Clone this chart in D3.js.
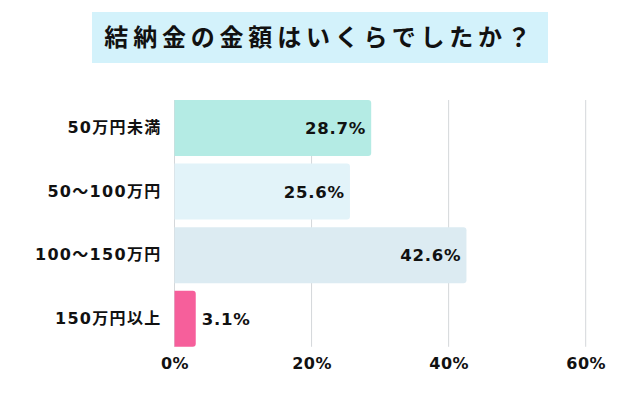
<!DOCTYPE html>
<html>
<head>
<meta charset="utf-8">
<script src="https://cdn.jsdelivr.net/npm/d3@7"></script>
<style>
  html, body { margin: 0; padding: 0; background: #fff; }
  svg { display: block; }
</style>
</head>
<body>
<svg id="svg"></svg>
<script>
const title = "結納金の金額はいくらでしたか？"
const categories = ["50万円未満", "50〜100万円", "100〜150万円", "150万円以上"]
const values = [28.7, 25.6, 42.6, 3.1]
const colors = ["#b4ebe4", "#e2f3f9", "#dcebf2", "#f65f9b"]
const ticks = [0, 20, 40, 60]

const width = 640
const height = 409
const labelFont = "'DejaVu Sans', 'Noto Sans CJK JP', sans-serif"

const svg = d3.select("#svg")
  .attr("width", width)
  .attr("height", height)
  .attr("viewBox", [0, 0, width, height])

// title box
svg.append("rect")
  .attr("x", 92).attr("y", 12)
  .attr("width", 456).attr("height", 51)
  .attr("fill", "#d3f2fb")
svg.append("text")
  .attr("x", 320).attr("y", 46)
  .attr("text-anchor", "middle")
  .attr("font-family", "'Noto Sans CJK JP', sans-serif")
  .attr("font-size", 24)
  .attr("font-weight", 700)
  .attr("letter-spacing", 4.8)
  .attr("fill", "#111")
  .text(title)

const x = d3.scaleLinear().domain([0, 60]).range([174.5, 585.7])
const y = d3.scaleBand()
  .domain(categories)
  .range([96.2, 350.6])
  .paddingInner(0.12)
  .paddingOuter(0.06)

const gridTop = y(categories[0])
const gridBottom = y(categories[categories.length - 1]) + y.bandwidth()

// gridlines
svg.append("g")
  .selectAll("line")
  .data(ticks)
  .join("line")
    .attr("x1", d => x(d)).attr("x2", d => x(d))
    .attr("y1", gridTop).attr("y2", gridBottom)
    .attr("stroke", "#d4d7da")
    .attr("stroke-width", 1)

// bars, rounded on the right side only
function barPath(x0, x1, y0, h, r) {
  r = Math.min(r, (x1 - x0) / 2)
  return `M${x0},${y0}H${x1 - r}Q${x1},${y0} ${x1},${y0 + r}V${y0 + h - r}Q${x1},${y0 + h} ${x1 - r},${y0 + h}H${x0}Z`
}

const rows = categories.map((c, i) => ({ name: c, value: values[i], color: colors[i] }))

svg.append("g")
  .selectAll("path")
  .data(rows)
  .join("path")
    .attr("d", d => barPath(x(0), x(d.value), y(d.name), y.bandwidth(), 3))
    .attr("fill", d => d.color)

// value labels
svg.append("g")
  .attr("font-family", labelFont)
  .selectAll("text")
  .data(rows)
  .join("text")
    .attr("x", d => d.value > 10 ? x(d.value) - 5 : x(d.value) + 6)
    .attr("y", d => y(d.name) + y.bandwidth() / 2)
    .attr("dy", "0.36em")
    .attr("text-anchor", d => d.value > 10 ? "end" : "start")
    .attr("font-size", 16.5)
    .attr("font-weight", 700)
    .attr("letter-spacing", 0.8)
    .attr("fill", "#111")
    .text(d => d.value.toFixed(1) + "%")

// category labels
const yAxis = d3.axisLeft(y).tickSize(0).tickPadding(13)
svg.append("g")
  .attr("transform", `translate(${x(0)},0)`)
  .call(yAxis)
  .attr("font-family", labelFont)
  .call(g => g.select(".domain").remove())
  .call(g => g.selectAll("text")
    .attr("font-size", 16)
    .attr("font-weight", 700)
    .attr("letter-spacing", 1.3)
    .attr("fill", "#111"))

// x tick labels
const xAxis = d3.axisBottom(x).tickValues(ticks).tickFormat(d => d + "%").tickSize(0).tickPadding(11)
svg.append("g")
  .attr("transform", `translate(0,${gridBottom})`)
  .call(xAxis)
  .attr("font-family", labelFont)
  .call(g => g.select(".domain").remove())
  .call(g => g.selectAll("text")
    .attr("font-size", 16)
    .attr("font-weight", 700)
    .attr("letter-spacing", 0.5)
    .attr("fill", "#111"))
</script>
</body>
</html>
